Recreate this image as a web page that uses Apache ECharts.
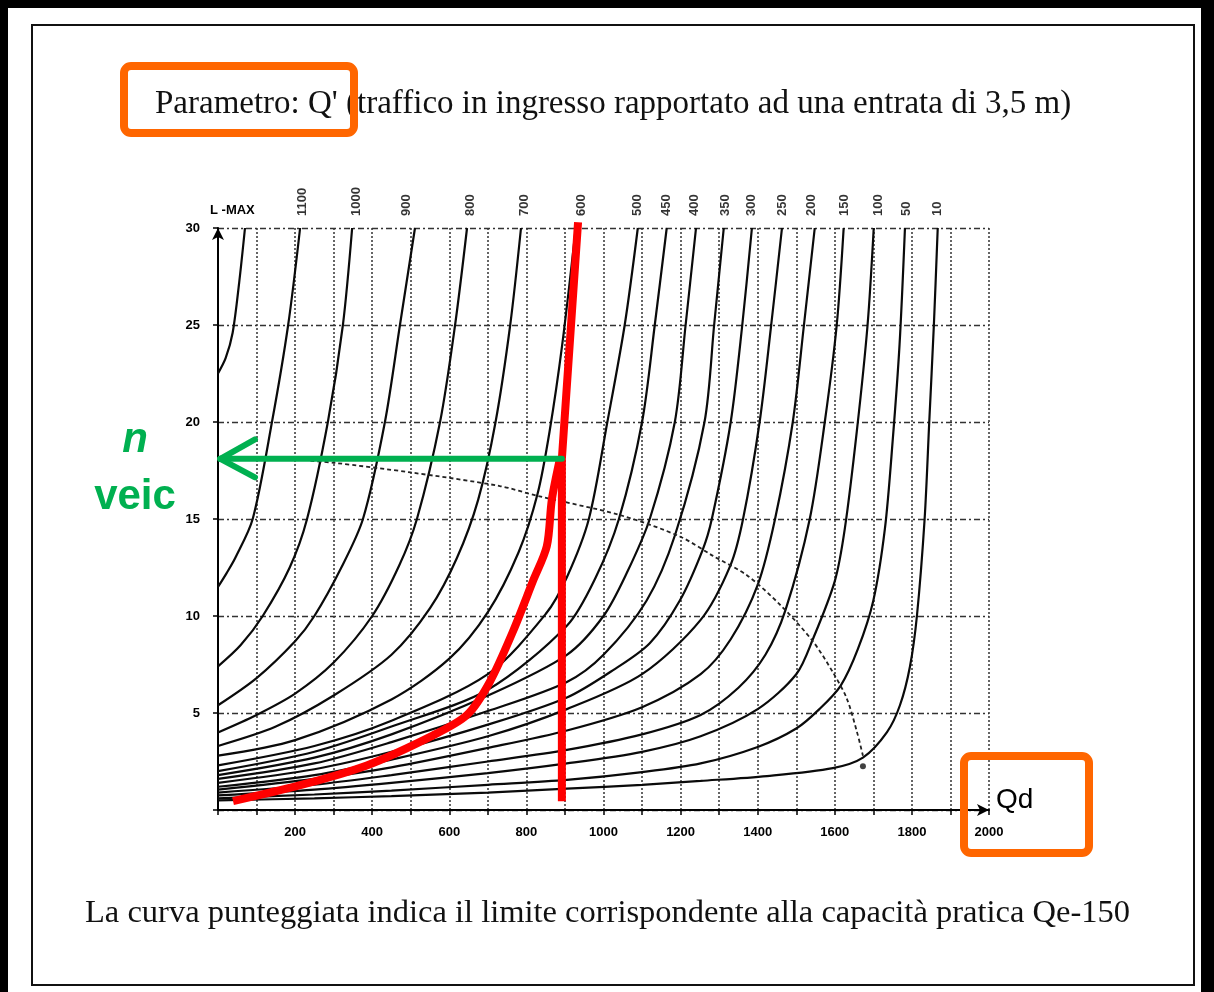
<!DOCTYPE html>
<html><head><meta charset="utf-8">
<script src="https://cdn.jsdelivr.net/npm/echarts@6.0.0/dist/echarts.min.js"></script>
<style>html,body{margin:0;padding:0;background:#fff;}#c{width:1214px;height:992px;}</style>
</head><body><div id="c"></div>
<script>
// ---- data (Qd, L) ----
const c1200 = [[0,22.5],[20,23.3],[38,24.6],[55,27.2],[70,30]];
const c1100 = [[0,11.5],[22,12.2],[45,13],[90,15],[140,20],[182,25],[213,30]];
const c1000 = [[0,7.4],[59,8.5],[116,10],[186,12.5],[231,15],[285,20],[324,25],[348,30]];
const c900 = [[0,5.4],[100,6.8],[200,8.7],[250,10],[320,12.5],[376,15],[433,20],[472,25],[511,30]];
const c800 = [[0,4.0],[100,4.9],[200,6.0],[300,7.6],[400,10.0],[470,12.6],[516,15],[576,20],[615,25],[646,30]];
const c700 = [[0,3.3],[150,4.3],[300,5.9],[450,8.0],[550,10.4],[620,13.0],[675,16],[720,20],[758,25],[786,30]];
const c600 = [[0,2.8],[200,3.6],[450,5.7],[600,7.8],[700,10.2],[780,13.3],[829,16.3],[860,19.5],[893,24],[928,30]];
const c500 = [[0,2.3],[250,3.3],[450,4.6],[700,7.0],[850,10.1],[905,12.0],[962,15],[1010,20],[1055,25],[1089,30]];
const c450 = [[0,2.0],[250,3.0],[450,4.3],[700,6.2],[905,9.5],[980,12],[1040,15],[1100,20],[1133,25],[1164,30]];
const c400 = [[0,1.8],[250,2.7],[450,3.9],[700,5.9],[905,8.0],[1000,10.0],[1060,12.2],[1120,15],[1185,20],[1213,25],[1240,30]];
const c350 = [[0,1.6],[250,2.4],[450,3.5],[700,5.1],[905,6.6],[1000,8.0],[1112,10.8],[1186,14.2],[1262,20],[1287,25],[1312,30]];
const c300 = [[0,1.4],[250,2.1],[450,3.0],[700,4.4],[905,5.8],[1024,7.2],[1120,8.6],[1198,10.8],[1257,13.4],[1281,15],[1330,20],[1360,25],[1385,30]];
const c250 = [[0,1.2],[250,1.8],[450,2.6],[700,3.8],[905,5.2],[1100,7.0],[1252,9.8],[1329,12.6],[1362,15],[1405,20],[1435,25],[1463,30]];
const c200 = [[0,1.05],[250,1.6],[450,2.2],[700,3.2],[905,4.1],[1100,5.3],[1252,7.0],[1330,8.8],[1400,11.6],[1445,15],[1491,20],[1520,25],[1548,30]];
const c150 = [[0,0.9],[250,1.3],[450,1.8],[700,2.5],[905,3.1],[1100,3.9],[1252,4.9],[1350,6.3],[1420,8.0],[1472,10.3],[1535,15],[1574,20],[1605,25],[1623,30]];
const c100 = [[0,0.75],[250,1.05],[450,1.4],[700,1.9],[905,2.4],[1100,3.0],[1252,3.8],[1400,5.2],[1500,7.0],[1543,8.8],[1600,11.8],[1626,14.5],[1657,19.5],[1685,25],[1701,30]];
const c50 = [[0,0.6],[250,0.8],[450,1.0],[700,1.3],[905,1.55],[1100,1.95],[1252,2.4],[1400,3.25],[1500,4.2],[1560,5.2],[1615,6.4],[1660,8.3],[1700,10.8],[1730,14.5],[1750,19],[1768,24],[1782,30]];
const c10 = [[0,0.5],[250,0.6],[450,0.72],[700,0.9],[905,1.1],[1100,1.3],[1252,1.5],[1424,1.75],[1595,2.16],[1673,2.7],[1735,4.0],[1769,5.4],[1795,7.4],[1813,10],[1833,15],[1845,20],[1857,25],[1867,30]];

// practical capacity (dotted curve)
const capacity = [[240,18.0],[300,17.9],[500,17.4],[731,16.7],[827,16.2],[1043,15.2],[1198,14.1],[1284,13.1],[1372,12.1],[1457,10.6],[1543,8.7],[1595,7.1],[1631,5.75],[1657,4.06],[1673,2.8]];
const capacityEnd = [[1673,2.26]];

// parameter labels Q' at the top of the curves
const labelText = ['1100','1000','900','800','700','600','500','450','400','350','300','250','200','150','100','50','10'];
const labelQd = [218,360,490,654,796,944,1087,1164,1237,1315,1385,1463,1540,1626,1712,1787,1865];

// hand-drawn annotations
const redCurve = [[39,0.46],[213,1.28],[386,2.3],[558,3.85],[646,4.9],[705,6.6],[765,9.2],[817,11.8],[853,13.6],[866,16.0],[887,18.1]];
const redLine = [[892,0.45],[892,18.1],[934,30.3]];
const greenShaft = [[892,18.1],[6,18.1]];
const greenArmUp = [[6,18.1],[96,19.1]];
const greenArmDown = [[6,18.1],[96,17.15]];

const curves = [c1200,c1100,c1000,c900,c800,c700,c600,c500,c450,c400,c350,c300,c250,c200,c150,c100,c50,c10];

const series = curves.map(d => ({
  type:'line', data:d, symbol:'none', smooth:0.3, silent:true,
  lineStyle:{color:'#0a0a0a', width:2.2}, z:3
}));
series.push({
  type:'line', data:capacity, symbol:'none', smooth:0.3, silent:true,
  lineStyle:{color:'#222', width:1.8, type:[4,3]}, z:3
});
series.push({
  type:'scatter', data:capacityEnd, symbol:'circle', symbolSize:6, itemStyle:{color:'#111'}, silent:true, z:3
});
series.push({
  type:'scatter', silent:true, symbolSize:0, clip:false,
  data: labelQd.map((q,i)=>[q,30,labelText[i]]),
  label:{show:true, formatter:p=>p.data[2], position:'top', distance:12, rotate:90,
    align:'left', verticalAlign:'middle', fontSize:13, fontWeight:'bold',
    fontFamily:'Liberation Sans', color:'#000'}, z:4
});
series.push({type:'line', data:redCurve, symbol:'none', smooth:0.3, clip:false, silent:true,
  lineStyle:{color:'#FF0000', width:8}, z:10});
series.push({type:'line', data:redLine, symbol:'none', clip:false, silent:true,
  lineStyle:{color:'#FF0000', width:8}, z:10});
[greenShaft, greenArmUp, greenArmDown].forEach(d => series.push({
  type:'line', data:d, symbol:'none', clip:false, silent:true,
  lineStyle:{color:'#00B050', width:6, cap:'round'}, z:11
}));

const chart = echarts.init(document.getElementById('c'), null, {renderer:'canvas'});
chart.setOption({
  animation:false,
  backgroundColor:'#ffffff',
  grid:{left:218, top:228, width:771, height:582, containLabel:false, outerBoundsMode:'none'},
  xAxis:{type:'value', min:0, max:2000, interval:100,
    axisLine:{show:true, onZero:false, lineStyle:{color:'#000', width:2}, symbol:['none','arrow'], symbolSize:[9,12]},
    axisTick:{show:true, length:5, lineStyle:{color:'#000', width:1.5}},
    axisLabel:{formatter:v => (v>0 && v%200===0) ? String(v) : '', fontSize:13, fontWeight:'bold',
      fontFamily:'Liberation Sans', color:'#000', margin:16, showMinLabel:true, showMaxLabel:true},
    splitLine:{show:true, lineStyle:{color:'#333', width:1.5, type:[2,2]}}
  },
  yAxis:{type:'value', min:0, max:30, interval:5,
    axisLine:{show:true, onZero:false, lineStyle:{color:'#000', width:2}, symbol:['none','arrow'], symbolSize:[9,12]},
    axisTick:{show:true, length:5, lineStyle:{color:'#000', width:1.5}},
    axisLabel:{formatter:v => v===0 ? '' : String(v), fontSize:13, fontWeight:'bold',
      fontFamily:'Liberation Sans', color:'#000', margin:18},
    splitLine:{show:true, lineStyle:{color:'#333', width:1.3, type:[6,3,2,3]}}
  },
  series: series,
  graphic:[
    {type:'rect', z:100, shape:{x:0,y:0,width:1214,height:8}, style:{fill:'#000'}},
    {type:'rect', z:100, shape:{x:0,y:0,width:8,height:992}, style:{fill:'#000'}},
    {type:'rect', z:100, shape:{x:1201,y:0,width:13,height:992}, style:{fill:'#000'}},
    {type:'rect', z:100, shape:{x:32,y:25,width:1162,height:960}, style:{fill:'none', stroke:'#111', lineWidth:2}},
    {type:'text', z:50, x:155, y:104, style:{text:"Parametro: Q' (traffico in ingresso rapportato ad una entrata di 3,5 m)",
      font:'33px "Liberation Serif"', fill:'#111', textAlign:'left', textVerticalAlign:'middle'}},
    {type:'text', z:50, x:85, y:913, style:{text:'La curva punteggiata indica il limite corrispondente alla capacità pratica Qe-150',
      font:'32.5px "Liberation Serif"', fill:'#111', textAlign:'left', textVerticalAlign:'middle'}},
    {type:'text', z:50, x:210, y:210, style:{text:'L -MAX', font:'bold 13px "Liberation Sans"', fill:'#000', textAlign:'left', textVerticalAlign:'middle'}},
    {type:'text', z:50, x:996, y:800, style:{text:'Qd', font:'28px "Liberation Sans"', fill:'#000', textAlign:'left', textVerticalAlign:'middle'}},
    {type:'text', z:50, x:135, y:440, style:{text:'n', font:'italic bold 42px "Liberation Sans"', fill:'#00B050', textAlign:'center', textVerticalAlign:'middle'}},
    {type:'text', z:50, x:135, y:497, style:{text:'veic', font:'bold 42px "Liberation Sans"', fill:'#00B050', textAlign:'center', textVerticalAlign:'middle'}},
    {type:'rect', z:120, shape:{x:124,y:66,width:230,height:67,r:7}, style:{fill:'none', stroke:'#FF6600', lineWidth:8}},
    {type:'rect', z:120, shape:{x:964,y:756,width:125,height:97,r:7}, style:{fill:'none', stroke:'#FF6600', lineWidth:8}}
  ]
});
</script></body></html>
